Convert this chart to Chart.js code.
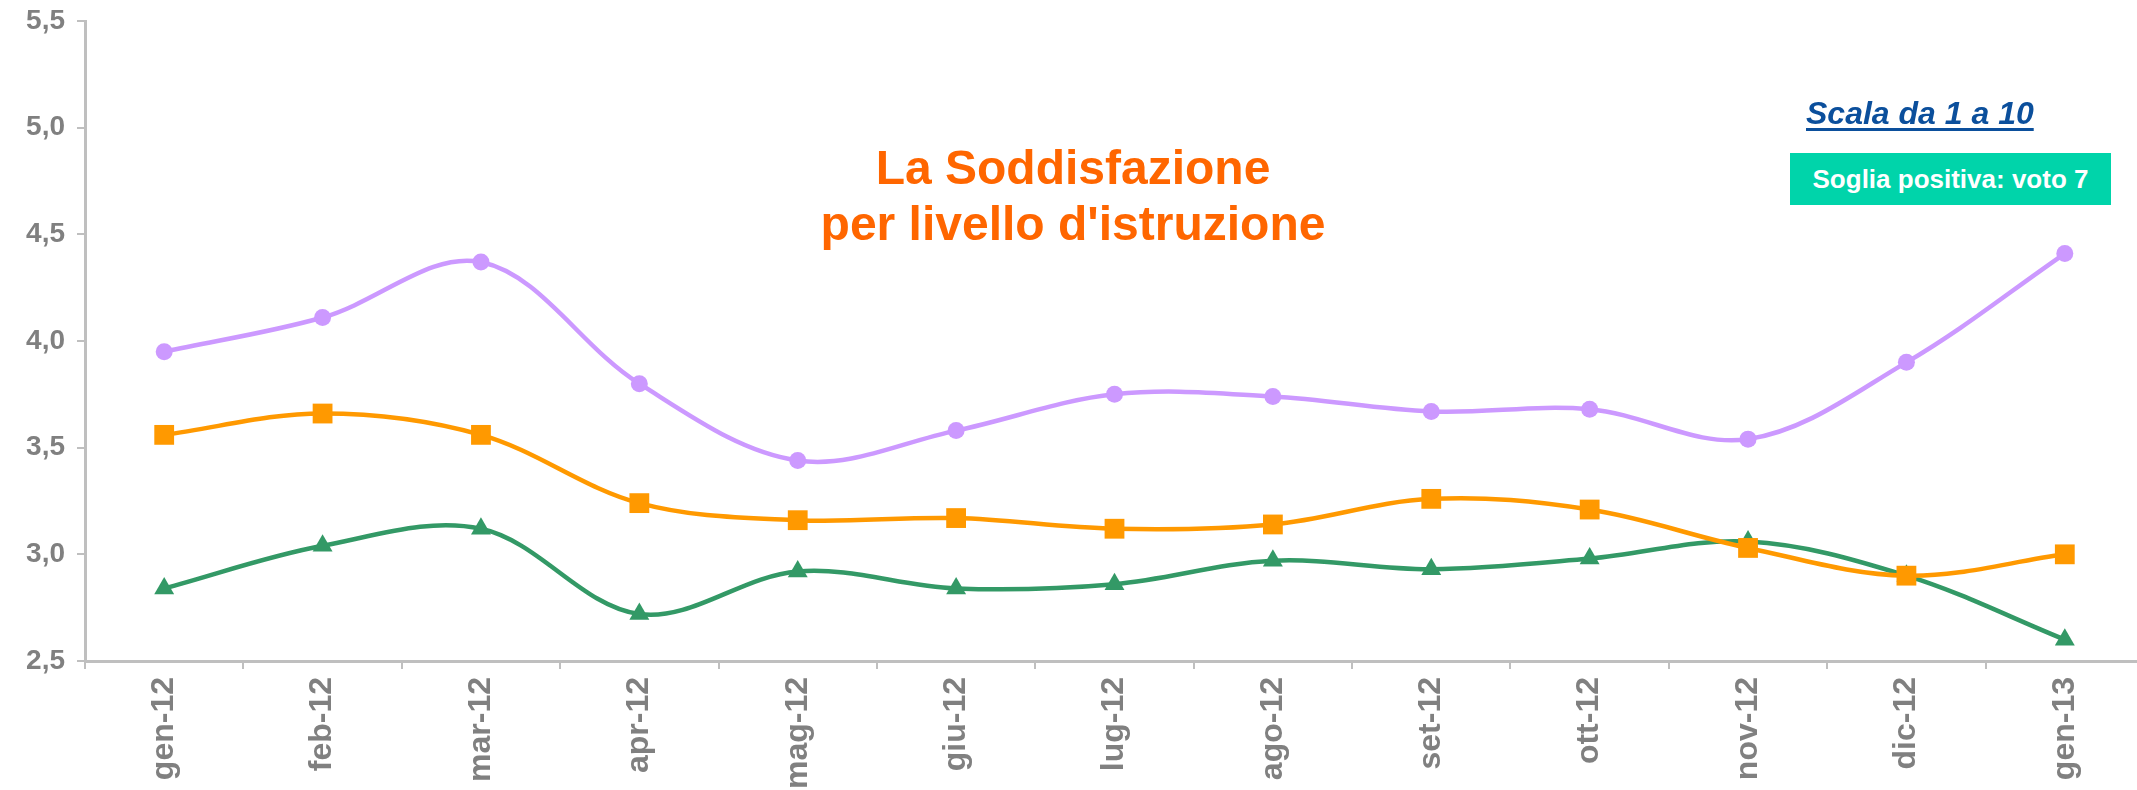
<!DOCTYPE html>
<html lang="it">
  <head>
    <meta charset="UTF-8" />
    <title>La Soddisfazione per livello d'istruzione</title>
    <script src="https://cdn.jsdelivr.net/npm/chart.js"></script>
    <style>
      body {
        margin: 0;
        background: #fff;
        overflow: hidden;
        font-family: "Liberation Sans", Arial, sans-serif;
      }
      .wrap {
        position: relative;
        width: 2137px;
        height: 790px;
        overflow: hidden;
      }
      .title {
        position: absolute;
        left: 773px;
        top: 140px;
        width: 600px;
        text-align: center;
        color: #ff6600;
        font-weight: bold;
        font-size: 48px;
        line-height: 56px;
      }
      .scala {
        position: absolute;
        left: 1806px;
        top: 95px;
        color: #0b4f9c;
        font-weight: bold;
        font-style: italic;
        font-size: 32px;
        text-decoration: underline;
        text-decoration-thickness: 3px;
        text-underline-offset: 4px;
      }
      .soglia {
        position: absolute;
        left: 1790px;
        top: 153px;
        width: 321px;
        height: 52px;
        line-height: 52px;
        background: #00d4aa;
        color: #fff;
        font-weight: bold;
        font-size: 26px;
        text-align: center;
      }
    </style>
  </head>
  <body>
    <div class="wrap">
      <canvas id="chart" width="2144" height="790"></canvas>
      <div class="title">La Soddisfazione<br />per livello d'istruzione</div>
      <div class="scala">Scala da 1 a 10</div>
      <div class="soglia">Soglia positiva: voto 7</div>
    </div>

    <script>
      const months = [
        "gen-12", "feb-12", "mar-12", "apr-12", "mag-12", "giu-12", "lug-12",
        "ago-12", "set-12", "ott-12", "nov-12", "dic-12", "gen-13",
      ];

      // values
      const purpleValues = [3.95, 4.11, 4.37, 3.80, 3.44, 3.58, 3.75, 3.74, 3.67, 3.68, 3.54, 3.90, 4.41];
      const orangeValues = [3.56, 3.66, 3.56, 3.24, 3.16, 3.17, 3.12, 3.14, 3.26, 3.21, 3.03, 2.90, 3.00];
      const greenValues = [2.84, 3.04, 3.12, 2.72, 2.92, 2.84, 2.86, 2.97, 2.93, 2.98, 3.06, 2.90, 2.60];

      const yTicks = [2.5, 3.0, 3.5, 4.0, 4.5, 5.0, 5.5];

      const axisGrey = "#bfbfbf";
      const labelGrey = "#808080";
      const fontFamily = "'Liberation Sans', Arial, sans-serif";

      function series(data, color, style, radius) {
        return {
          data: data,
          borderColor: color,
          backgroundColor: color,
          borderWidth: 4.5,
          pointStyle: style,
          pointRadius: radius,
          pointBorderWidth: 0,
          tension: 0.35,
          fill: false,
        };
      }

      new Chart(document.getElementById("chart"), {
        type: "line",
        data: {
          labels: months,
          datasets: [
            series(purpleValues, "#cc99ff", "circle", 8.5),
            series(orangeValues, "#ff9900", "rect", 14),
            series(greenValues, "#339966", "triangle", 11.5),
          ],
        },
        options: {
          responsive: false,
          animation: false,
          layout: {
            autoPadding: false,
            padding: { top: 21, right: 0, left: 0, bottom: 0 },
          },
          plugins: {
            legend: { display: false },
            tooltip: { enabled: false },
          },
          scales: {
            x: {
              offset: true,
              grid: {
                offset: true,
                drawOnChartArea: false,
                color: axisGrey,
                lineWidth: 2,
                tickLength: 8,
              },
              border: { color: axisGrey, width: 3 },
              ticks: {
                minRotation: 90,
                maxRotation: 90,
                padding: 8,
                color: labelGrey,
                font: { family: fontFamily, size: 32, weight: "bold" },
              },
              afterFit: (scale) => {
                scale.height = 129;
                scale.paddingLeft = 0;
                scale.paddingRight = 0;
              },
            },
            y: {
              min: 2.5,
              max: 5.5,
              afterBuildTicks: (scale) => {
                scale.ticks = yTicks.map((v) => ({ value: v }));
              },
              grid: {
                drawOnChartArea: false,
                color: axisGrey,
                lineWidth: 2,
                tickLength: 8,
              },
              border: { color: axisGrey, width: 3 },
              ticks: {
                padding: 12,
                color: labelGrey,
                font: { family: fontFamily, size: 28, weight: "bold" },
                callback: (v) => v.toFixed(1).replace(".", ","),
              },
              afterFit: (scale) => {
                scale.width = 85;
                scale.paddingTop = 0;
                scale.paddingBottom = 0;
              },
            },
          },
        },
      });
    </script>
  </body>
</html>
